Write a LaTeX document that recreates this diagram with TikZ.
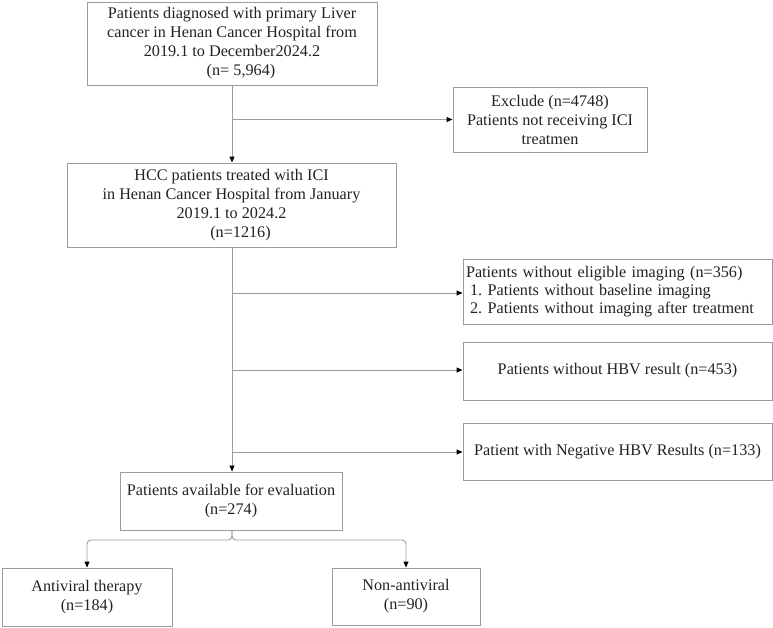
\documentclass[tikz,border=0pt]{standalone}
\usepackage{fontspec}
\setmainfont{Liberation Serif}
\usetikzlibrary{arrows.meta}
\definecolor{linegray}{HTML}{9C9C9C}
\definecolor{txt}{HTML}{222222}
\tikzset{
  box/.style={draw=linegray, line width=0.9pt, inner sep=0pt, align=center, text=txt,
    font=\fontsize{16.2}{19}\selectfont\frenchspacing},
  conn/.style={draw=linegray, line width=0.9pt, -{Triangle[length=6pt,width=5pt,color=black]}},
}
\begin{document}
\begin{tikzpicture}[x=1pt,y=-1pt]
\useasboundingbox (0,0) rectangle (773,627);
\node[box, minimum width=290pt, minimum height=83pt] (b1) at (232,43.5)
  {Patients diagnosed with primary Liver\\cancer in Henan Cancer Hospital from\\2019.1 to December2024.2\\\hspace*{18pt}(n= 5,964)};
\node[box, minimum width=194pt, minimum height=65pt] (ex) at (550,119.5)
  {Exclude (n=4748)\\Patients not receiving ICI\\treatmen};
\node[box, minimum width=329pt, minimum height=84pt] (b2) at (231.5,205)
  {HCC patients treated with ICI\\in Henan Cancer Hospital from January\\2019.1 to 2024.2\\\hspace*{18pt}(n=1216)};
\node[box, minimum width=309pt, minimum height=65pt, align=left, text width=303pt,
  font=\fontsize{16.2}{18.3}\selectfont\frenchspacing] (im) at (617.5,291.5)
  {Patients without eligible imaging (n=356)\\\hspace*{4pt}1. Patients without baseline imaging\\\hspace*{4pt}2. Patients without imaging after treatment};
\node[box, minimum width=309pt, minimum height=58pt] (hbv) at (617.5,371)
  {Patients without HBV result (n=453)};
\node[box, minimum width=309pt, minimum height=57pt] (neg) at (617.5,451.5)
  {Patient with Negative HBV Results (n=133)};
\node[box, minimum width=222pt, minimum height=58pt] (ev) at (231,501)
  {Patients available for evaluation\\(n=274)};
\node[box, minimum width=170pt, minimum height=58pt] (av) at (87,597)
  {Antiviral therapy\\(n=184)};
\node[box, minimum width=148pt, minimum height=57pt] (na) at (406,596.5)
  {Non-antiviral\\(n=90)};

\coordinate (j1) at (232,119.5);
\coordinate (j2) at (232,293);
\coordinate (j3) at (232,370);
\coordinate (j4) at (232,452);
\coordinate (sp) at (232,540);

\draw[conn] (b1.south -| j1) -- (b2.north -| j1);
\draw[conn] (j1) -- (ex.west |- j1);
\draw[conn] (b2.south -| j2) -- (ev.north -| j2);
\draw[conn] (j2) -- (im.west |- j2);
\draw[conn] (j3) -- (hbv.west |- j3);
\draw[conn] (j4) -- (neg.west |- j4);
\draw[conn, rounded corners=4pt] (ev.south -| sp) -- (sp) -- (sp -| av.north) -- (av.north);
\draw[conn, rounded corners=4pt] (ev.south -| sp) -- (sp) -- (sp -| na.north) -- (na.north);
\end{tikzpicture}
\end{document}
